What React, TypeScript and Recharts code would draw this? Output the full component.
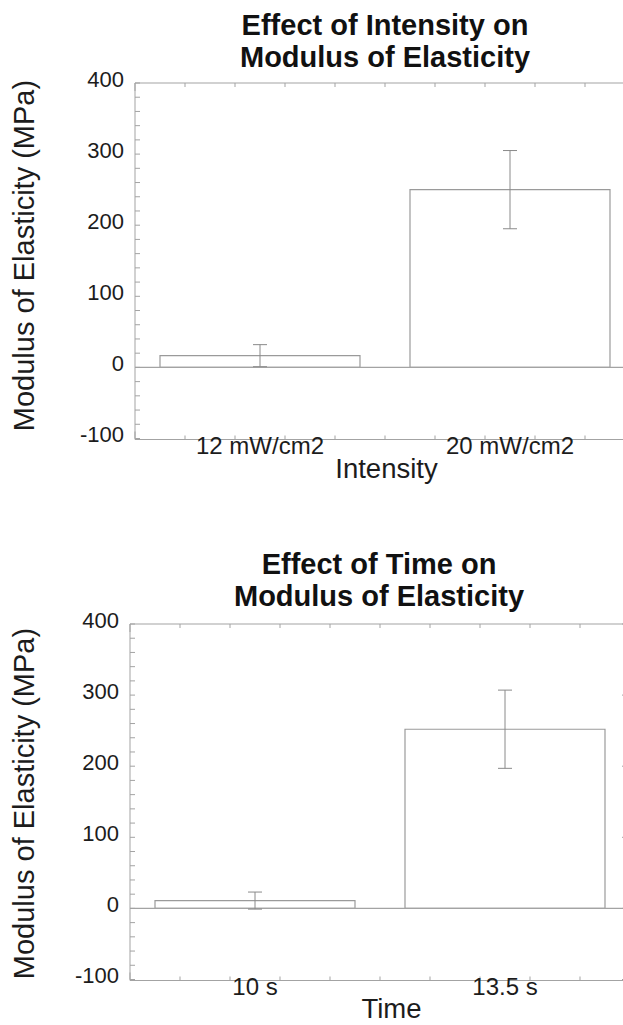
import React from 'react'
import { BarChart, Bar, XAxis, YAxis, ReferenceLine, ErrorBar } from 'recharts'

// ============================================
// Data
// ============================================

const intensityCategories = ['12 mW/cm2', '20 mW/cm2']
const intensityMeans = [16.5, 250]
const intensityErrors = [15.5, 55]

const timeCategories = ['10 s', '13.5 s']
const timeMeans = [11, 252]
const timeErrors = [12, 55]

const yTicks = [-100, 0, 100, 200, 300, 400]
const yMinorStep = 20
const xMinorPerBand = 10

// ============================================
// Styles
// ============================================

const FONT = '"Liberation Sans", Arial, Helvetica, sans-serif'
const LINE = '#a3a3a3'
const BAR_STROKE = '#9a9a9a'
const TEXT = '#1c1c1c'

const yDomain: [number, number] = [yTicks[0], yTicks[yTicks.length - 1]]

const yMinorTicks: number[] = []
for (let v = yDomain[0]; v <= yDomain[1]; v += yMinorStep) yMinorTicks.push(v)

// ============================================
// Custom ticks
// ============================================

function LeftTick({ x, y, payload }: any) {
  const v = payload.value
  return (
    <g>
      <line x1={x} y1={y} x2={x + 5} y2={y} stroke={LINE} />
      {yTicks.includes(v) && (
        <text x={x - 11} y={y + 3.5} textAnchor="end" fontSize={22} fill={TEXT} fontFamily={FONT}>
          {v}
        </text>
      )}
    </g>
  )
}

function RightTick({ x, y }: any) {
  return <line x1={x} y1={y} x2={x - 8} y2={y} stroke={LINE} />
}

function BottomGridTick({ x, y, index }: any) {
  const len = index % xMinorPerBand === 0 ? 8 : 4
  return <line x1={x} y1={y} x2={x} y2={y - len} stroke={LINE} />
}

function TopGridTick({ x, y, index }: any) {
  const len = index % xMinorPerBand === 0 ? 8 : 4
  return <line x1={x} y1={y} x2={x} y2={y + len} stroke={LINE} />
}

function CategoryTick({ x, y, payload }: any) {
  return (
    <text x={x} y={y + 15.5} textAnchor="middle" fontSize={24} fill={TEXT} fontFamily={FONT}>
      {payload.value}
    </text>
  )
}

// ============================================
// Chart panel
// ============================================

interface PanelProps {
  top: number
  height: number
  plotTop: number
  plotBottom: number
  plotLeft: number
  plotRight: number
  categories: string[]
  means: number[]
  errors: number[]
  titleLines: string[]
  titleX: number
  titleBaseline: number
  xLabel: string
  xLabelX: number
  xLabelBaseline: number
  yLabelX: number
  yLabelY: number
}

const CHART_W = 660

function Panel(p: PanelProps) {
  const data = p.categories.map((name, i) => ({ name, mean: p.means[i], err: p.errors[i] }))
  const bands = p.categories.length
  const gridTicks: number[] = []
  for (let i = 0; i <= bands * xMinorPerBand; i++) gridTicks.push(i / xMinorPerBand)

  const titleLH = 32.5
  const titleFs = 29
  const titleOff = (titleLH - 1.117 * titleFs) / 2 + 0.905 * titleFs
  const labFs = 27.5
  const labLH = 22
  const labOff = (labLH - 1.117 * labFs) / 2 + 0.905 * labFs
  const yLabFs = 29

  // every axis is 1px thick (0 would hide it), so the margins give that back
  return (
    <>
      <div
        style={{
          position: 'absolute',
          left: p.titleX - 250,
          width: 500,
          top: p.titleBaseline - titleOff,
          textAlign: 'center',
          fontFamily: FONT,
          fontWeight: 'bold',
          fontSize: titleFs,
          lineHeight: `${titleLH}px`,
          color: '#111',
        }}
      >
        {p.titleLines.map((t) => (
          <div key={t}>{t}</div>
        ))}
      </div>
      <div
        style={{
          position: 'absolute',
          left: p.yLabelX - 250,
          top: p.yLabelY - yLabFs / 2,
          width: 500,
          height: yLabFs,
          lineHeight: `${yLabFs}px`,
          textAlign: 'center',
          fontFamily: FONT,
          fontSize: yLabFs,
          color: TEXT,
          transform: 'rotate(-90deg)',
          whiteSpace: 'nowrap',
        }}
      >
        Modulus of Elasticity (MPa)
      </div>
      <div
        style={{
          position: 'absolute',
          left: p.xLabelX - 150,
          width: 300,
          top: p.xLabelBaseline - labOff,
          height: labLH,
          lineHeight: `${labLH}px`,
          textAlign: 'center',
          fontFamily: FONT,
          fontSize: labFs,
          color: TEXT,
        }}
      >
        {p.xLabel}
      </div>
      <div style={{ position: 'absolute', left: 0, top: p.top }}>
        <BarChart
          width={CHART_W}
          height={p.height}
          data={data}
          barCategoryGap="10%"
          margin={{
            top: p.plotTop - p.top - 1,
            bottom: p.top + p.height - p.plotBottom - 2,
            left: 0,
            right: CHART_W - p.plotRight - 1,
          }}
        >
          <XAxis
            xAxisId="grid"
            type="number"
            domain={[0, bands]}
            allowDataOverflow
            ticks={gridTicks}
            interval={0}
            height={1}
            tickSize={0}
            tickMargin={0}
            tickLine={false}
            axisLine={{ stroke: LINE }}
            tick={<BottomGridTick />}
          />
          <XAxis
            xAxisId="cat"
            dataKey="name"
            type="category"
            height={1}
            axisLine={false}
            tickLine={false}
            tickSize={0}
            tickMargin={0}
            interval={0}
            tick={<CategoryTick />}
          />
          <XAxis
            xAxisId="gridTop"
            orientation="top"
            type="number"
            domain={[0, bands]}
            allowDataOverflow
            ticks={gridTicks}
            interval={0}
            height={1}
            tickSize={0}
            tickMargin={0}
            tickLine={false}
            axisLine={{ stroke: LINE }}
            tick={<TopGridTick />}
          />
          <YAxis
            yAxisId="left"
            type="number"
            domain={yDomain}
            allowDataOverflow
            ticks={yMinorTicks}
            interval={0}
            width={p.plotLeft}
            tickSize={0}
            tickMargin={0}
            tickLine={false}
            axisLine={{ stroke: LINE }}
            tick={<LeftTick />}
          />
          <YAxis
            yAxisId="right"
            orientation="right"
            type="number"
            domain={yDomain}
            allowDataOverflow
            ticks={yTicks}
            interval={0}
            width={1}
            tickSize={0}
            tickMargin={0}
            tickLine={false}
            axisLine={{ stroke: LINE }}
            tick={<RightTick />}
          />
          <ReferenceLine y={0} xAxisId="cat" yAxisId="left" stroke={LINE} strokeWidth={1.2} />
          <Bar
            dataKey="mean"
            xAxisId="cat"
            yAxisId="left"
            fill="#ffffff"
            stroke={BAR_STROKE}
            strokeWidth={1.2}
            isAnimationActive={false}
          >
            <ErrorBar dataKey="err" direction="y" width={7} stroke="#8a8a8a" strokeWidth={1} />
          </Bar>
        </BarChart>
      </div>
    </>
  )
}

// ============================================
// App
// ============================================

export default function App() {
  return (
    <div
      style={{
        position: 'absolute',
        left: 0,
        top: 0,
        width: 623,
        height: 1025,
        overflow: 'hidden',
        background: '#ffffff',
      }}
    >
      <Panel
        top={0}
        height={500}
        plotTop={83}
        plotBottom={438.5}
        plotLeft={135}
        plotRight={635}
        categories={intensityCategories}
        means={intensityMeans}
        errors={intensityErrors}
        titleLines={['Effect of Intensity on', 'Modulus of Elasticity']}
        titleX={385}
        titleBaseline={35}
        xLabel="Intensity"
        xLabelX={386.5}
        xLabelBaseline={479}
        yLabelX={23.5}
        yLabelY={255}
      />
      <Panel
        top={530}
        height={495}
        plotTop={624}
        plotBottom={979.5}
        plotLeft={130}
        plotRight={630}
        categories={timeCategories}
        means={timeMeans}
        errors={timeErrors}
        titleLines={['Effect of Time on', 'Modulus of Elasticity']}
        titleX={379}
        titleBaseline={574}
        xLabel="Time"
        xLabelX={391.5}
        xLabelBaseline={1019}
        yLabelX={23.5}
        yLabelY={803.5}
      />
    </div>
  )
}
